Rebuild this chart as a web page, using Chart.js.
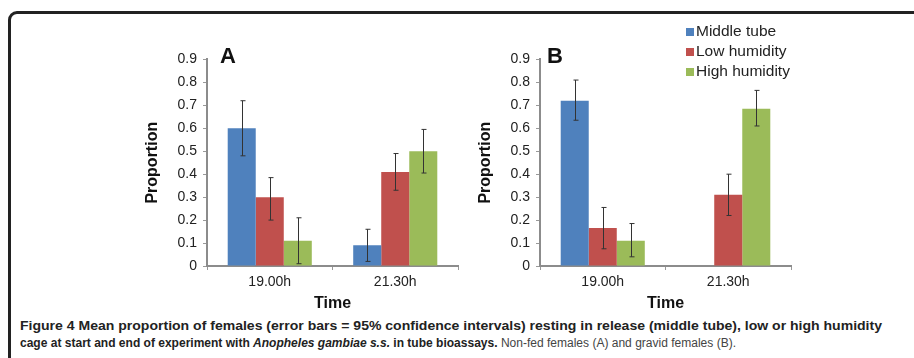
<!DOCTYPE html>
<html>
<head>
<meta charset="utf-8">
<script src="https://cdn.jsdelivr.net/npm/chart.js@4/dist/chart.umd.min.js"></script>
<style>
  body { margin: 0; background: #fff; width: 914px; height: 358px; overflow: hidden; position: relative; font-family: "Liberation Sans", Arial, sans-serif; }
  .frame { position: absolute; left: 8px; top: 11px; width: 1000px; height: 400px; border: 3px solid #222; border-radius: 9px; }
  .plot { position: absolute; }
  .panel { position: absolute; font: bold 22px "Liberation Sans", Arial, sans-serif; color: #111; }
  #legend { position: absolute; left: 686px; top: 21px; font: 15.5px "Liberation Sans", Arial, sans-serif; color: #222; }
  #legend div { height: 20px; line-height: 20px; white-space: nowrap; }
  #legend span.sw { display: inline-block; width: 8px; height: 8px; margin-right: 2px; vertical-align: 0px; }
  .cap { position: absolute; left: 20px; white-space: nowrap; font: 12px "Liberation Sans Narrow", "Liberation Sans", sans-serif; color: #222; transform-origin: 0 0; }
  .cap b { font-weight: bold; }
  .cap .lt { color: #444; }
</style>
</head>
<body>
<div class="frame"></div>
<div class="plot" style="left:140px;top:45px;width:325px;height:270px"><canvas id="chartA"></canvas></div>
<div class="plot" style="left:473px;top:45px;width:325px;height:270px"><canvas id="chartB"></canvas></div>
<div class="panel" style="left:220px;top:43px">A</div>
<div class="panel" style="left:547px;top:43px">B</div>
<div id="legend"></div>
<div class="cap" id="cap1" style="top:319px"><b>Figure 4 Mean proportion of females (error bars = 95% confidence intervals) resting in release (middle tube), low or high humidity</b></div>
<div class="cap" id="cap2" style="top:336px"><b>cage at start and end of experiment with <i>Anopheles gambiae s.s.</i> in tube bioassays.</b> <span class="lt">Non-fed females (A) and gravid females (B).</span></div>
<script>
const categories = ['19.00h', '21.30h'];
const seriesNames = ['Middle tube', 'Low humidity', 'High humidity'];
const colors = ['#4f81bd', '#c0504d', '#9bbb59'];
const yTicks = [0, 0.1, 0.2, 0.3, 0.4, 0.5, 0.6, 0.7, 0.8, 0.9];

// panel A: non-fed females
const middleA = [0.60, 0.09];
const lowA = [0.30, 0.41];
const highA = [0.11, 0.50];
const middleA_ci = [[0.48, 0.72], [0.02, 0.16]];
const lowA_ci = [[0.20, 0.385], [0.33, 0.49]];
const highA_ci = [[0.01, 0.21], [0.405, 0.595]];

// panel B: gravid females
const middleB = [0.72, null];
const lowB = [0.165, 0.31];
const highB = [0.11, 0.685];
const middleB_ci = [[0.635, 0.81], null];
const lowB_ci = [[0.075, 0.255], [0.22, 0.40]];
const highB_ci = [[0.04, 0.185], [0.61, 0.765]];

const errorBars = {
  id: 'errorBars',
  afterDatasetsDraw(chart) {
    const ctx = chart.ctx;
    const y = chart.scales.y;
    ctx.save();
    ctx.strokeStyle = '#333';
    ctx.lineWidth = 1;
    chart.data.datasets.forEach((ds, i) => {
      const meta = chart.getDatasetMeta(i);
      meta.data.forEach((bar, j) => {
        const ci = ds.ci[j];
        if (!ci) return;
        const x = Math.round(bar.x) + 0.5;
        const y0 = y.getPixelForValue(ci[0]);
        const y1 = y.getPixelForValue(ci[1]);
        ctx.beginPath();
        ctx.moveTo(x, y0); ctx.lineTo(x, y1);
        ctx.moveTo(x - 2, y0); ctx.lineTo(x + 3, y0);
        ctx.moveTo(x - 2, y1); ctx.lineTo(x + 3, y1);
        ctx.stroke();
      });
    });
    ctx.restore();
  }
};

function makeChart(id, values, cis) {
  const datasets = seriesNames.map((name, i) => ({
    label: name,
    data: values[i],
    ci: cis[i],
    backgroundColor: colors[i],
    borderWidth: 0,
    categoryPercentage: 0.67,
    barPercentage: 1.0
  }));
  const tickFont = { family: '"Liberation Sans", Arial, sans-serif', size: 14 };
  const titleFont = { family: '"Liberation Sans", Arial, sans-serif', size: 16, weight: 'bold' };
  return new Chart(document.getElementById(id), {
    type: 'bar',
    data: { labels: categories, datasets: datasets },
    options: {
      responsive: true,
      maintainAspectRatio: false,
      animation: false,
      layout: { padding: { top: 10, right: 7, left: 0, bottom: 0 } },
      plugins: { legend: { display: false }, tooltip: { enabled: false } },
      scales: {
        x: {
          grid: { display: true, drawOnChartArea: false, drawTicks: true, tickLength: 4, color: '#999' },
          border: { color: '#8c8c8c', width: 2 },
          ticks: { color: '#222', font: tickFont, padding: 4 },
          title: { display: true, text: 'Time', color: '#111', font: titleFont, padding: { top: 2, bottom: 2 } },
          afterFit(s) { s.height = 49; }
        },
        y: {
          min: 0, max: 0.9,
          afterBuildTicks(s) { s.ticks = yTicks.map(v => ({ value: v })); },
          grid: { display: true, drawOnChartArea: false, drawTicks: true, tickLength: 4, color: '#999' },
          border: { color: '#8c8c8c', width: 2 },
          ticks: { color: '#222', font: tickFont, padding: 6, callback: v => String(v) },
          title: { display: true, text: 'Proportion', color: '#111', font: titleFont, padding: { top: 3, bottom: 4 } },
          afterFit(s) { s.width = 67; }
        }
      }
    },
    plugins: [errorBars]
  });
}

makeChart('chartA', [middleA, lowA, highA], [middleA_ci, lowA_ci, highA_ci]);
makeChart('chartB', [middleB, lowB, highB], [middleB_ci, lowB_ci, highB_ci]);

const legend = document.getElementById('legend');
seriesNames.forEach((name, i) => {
  const row = document.createElement('div');
  row.innerHTML = '<span class="sw" style="background:' + colors[i] + '"></span>' + name;
  legend.appendChild(row);
});

// stretch the caption lines to the widths in the figure
[['cap1', 862], ['cap2', 716]].forEach(([id, w]) => {
  const el = document.getElementById(id);
  const k = w / el.getBoundingClientRect().width;
  el.style.transform = 'scaleX(' + k + ')';
});
</script>
</body>
</html>
